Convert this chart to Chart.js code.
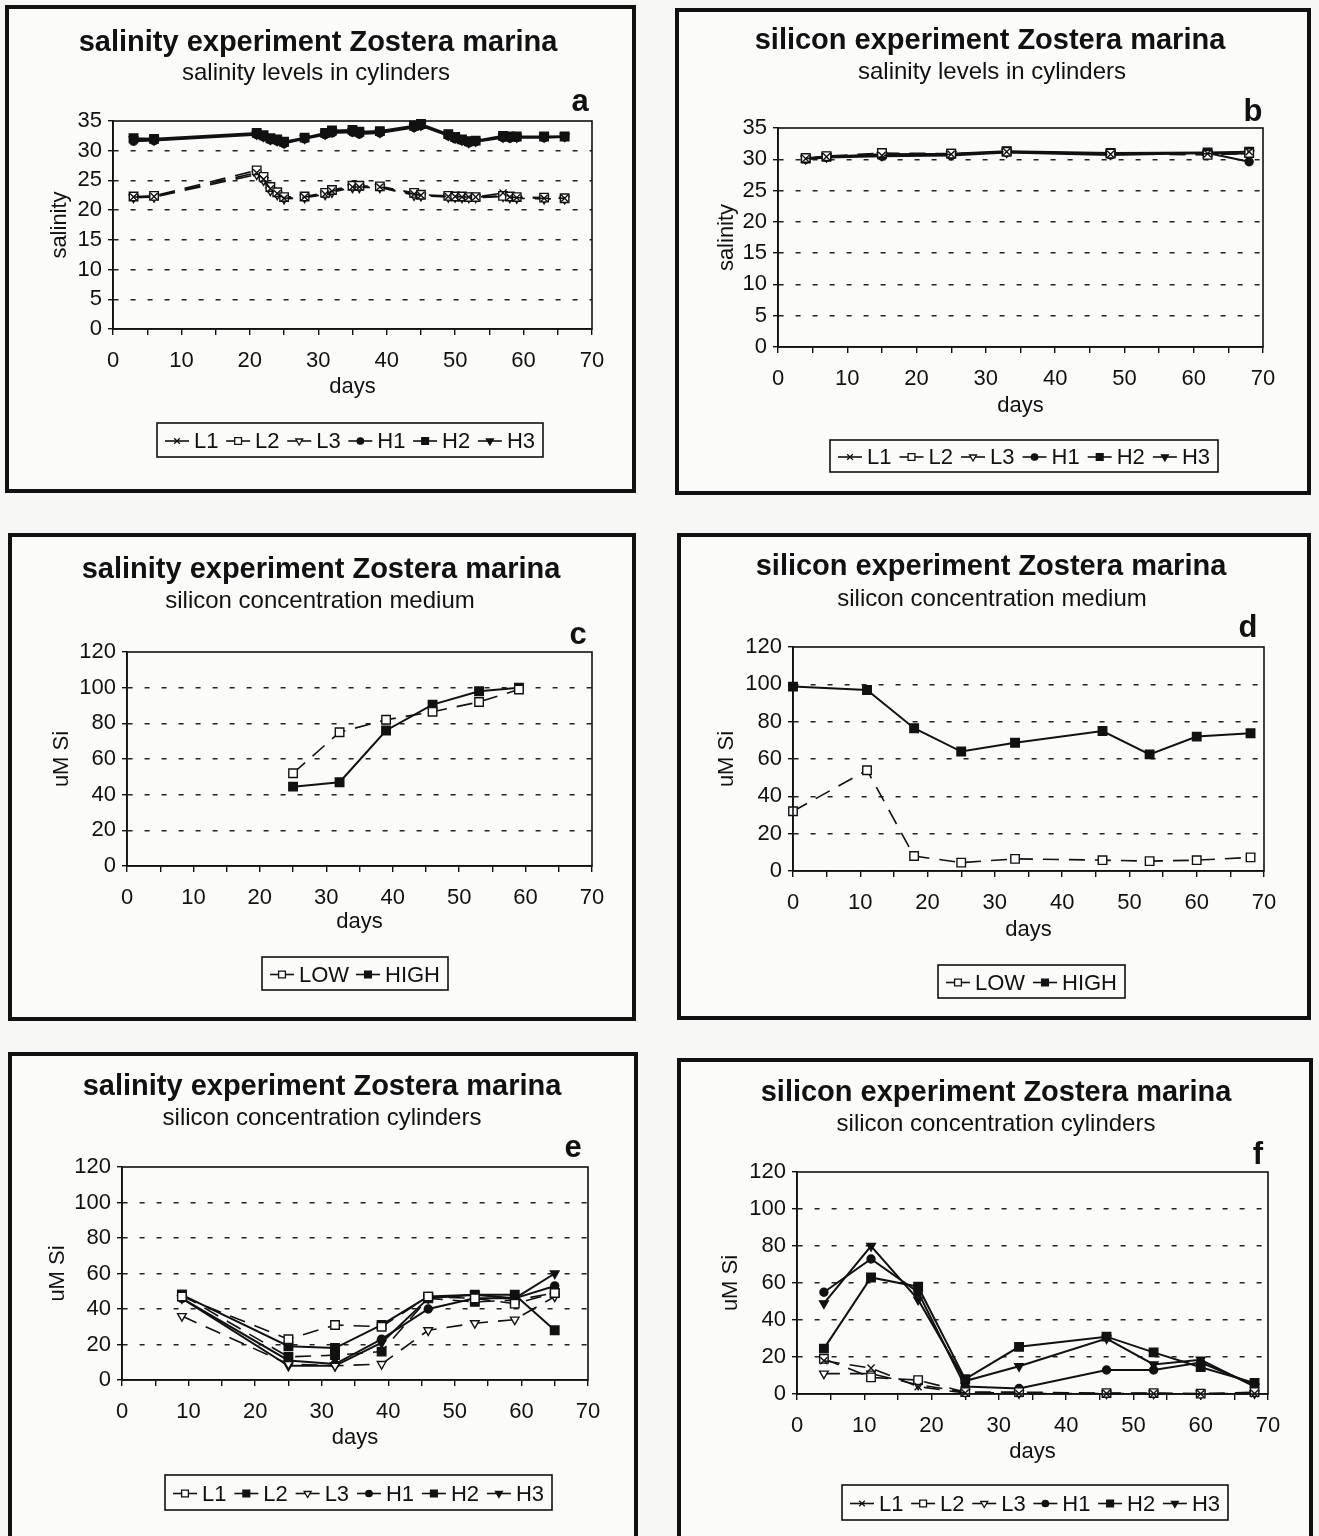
<!DOCTYPE html>
<html>
<head>
<meta charset="utf-8">
<script src="https://cdn.jsdelivr.net/npm/chart.js@4.4.1/dist/chart.umd.min.js"></script>
<style>
body { margin:0; width:1319px; height:1536px; background:#f7f7f5; position:relative; overflow:hidden; }
.box { position:absolute; border:4px solid #111; box-sizing:border-box; background:#fbfbfa; }
canvas { position:absolute; }
</style>
</head>
<body>
<script>
// ---------- data ----------

// a: salinity experiment, salinity in cylinders
var daysA = [3, 6, 21, 22, 23, 24, 25, 28, 31, 32, 35, 36, 39, 44, 45, 49, 50, 51, 52, 53, 57, 58, 59, 63, 66];
var salA_L1 = [22.2, 22.3, 26.3, 25.2, 23.6, 22.8, 22.0, 22.2, 22.7, 23.2, 23.9, 23.9, 23.9, 22.7, 22.5, 22.3, 22.3, 22.2, 22.2, 22.2, 22.9, 22.2, 22.1, 22.0, 22.0];
var salA_L2 = [22.3, 22.4, 26.7, 25.6, 23.9, 23.0, 22.2, 22.3, 22.9, 23.4, 24.1, 24.1, 24.0, 22.9, 22.6, 22.4, 22.3, 22.3, 22.2, 22.2, 22.4, 22.3, 22.2, 22.1, 22.0];
var salA_L3 = [22.1, 22.2, 26.0, 25.0, 23.3, 22.6, 21.9, 22.1, 22.6, 23.0, 23.8, 23.8, 23.8, 22.5, 22.4, 22.2, 22.2, 22.1, 22.1, 22.1, 22.3, 22.1, 22.0, 21.9, 21.9];
var salA_H1 = [31.6, 31.7, 32.7, 32.3, 31.8, 31.6, 31.2, 32.0, 32.7, 33.0, 33.1, 32.8, 33.0, 33.9, 34.2, 32.5, 32.0, 31.7, 31.3, 31.5, 32.2, 32.1, 32.2, 32.2, 32.3];
var salA_H2 = [32.1, 32.0, 33.0, 32.6, 32.1, 31.9, 31.5, 32.2, 33.0, 33.4, 33.5, 33.2, 33.3, 34.2, 34.5, 32.8, 32.3, 31.9, 31.6, 31.7, 32.5, 32.4, 32.4, 32.4, 32.4];
var salA_H3 = [31.9, 31.8, 32.8, 32.4, 31.9, 31.7, 31.3, 32.1, 32.8, 33.2, 33.3, 33.0, 33.1, 34.0, 34.3, 32.6, 32.2, 31.8, 31.4, 31.6, 32.3, 32.3, 32.3, 32.3, 32.4];

// b: silicon experiment, salinity in cylinders
var daysB = [4, 7, 15, 25, 33, 48, 62, 68];
var salB_L1 = [30.1, 30.4, 30.6, 30.8, 31.2, 30.8, 30.9, 31.2];
var salB_L2 = [30.2, 30.5, 31.0, 30.9, 31.2, 30.9, 30.7, 31.0];
var salB_L3 = [30.1, 30.4, 30.7, 30.8, 31.1, 30.8, 30.8, 30.9];
var salB_H1 = [30.0, 30.3, 30.5, 30.6, 31.1, 30.7, 31.0, 29.6];
var salB_H2 = [30.1, 30.4, 30.8, 30.9, 31.3, 31.0, 31.1, 31.2];
var salB_H3 = [30.1, 30.4, 30.6, 30.8, 31.2, 30.9, 31.0, 30.9];

// c: salinity experiment, silicon in medium
var daysC = [25, 32, 39, 46, 53, 59];
var siC_LOW = [52, 75, 82, 86.5, 92, 99];
var siC_HIGH = [44.5, 47, 76, 90.5, 98, 100];

// d: silicon experiment, silicon in medium
var daysD = [0, 11, 18, 25, 33, 46, 53, 60, 68];
var siD_LOW = [32, 54, 8, 4.5, 6.5, 5.8, 5.3, 5.8, 7.3];
var siD_HIGH = [98.8, 97, 76.5, 64, 68.7, 75, 62.5, 72, 73.8];

// e: salinity experiment, silicon in cylinders
var daysE = [9, 25, 32, 39, 46, 53, 59, 65];
var siE_L1 = [47, 23, 31, 30, 47, 46, 43, 49];
var siE_L2 = [48, 13, 14, 16, 46, 44, 45, 49];
var siE_L3 = [36, 9, 8, 9, 28, 32, 34, 47];
var siE_H1 = [46, 11, 9, 23, 40, 46, 46, 53];
var siE_H2 = [48, 19, 18, 31, 47, 48, 48, 28];
var siE_H3 = [46, 8, 8, 21, 46, 48, 46, 60];

// f: silicon experiment, silicon in cylinders
var daysF = [4, 11, 18, 25, 33, 46, 53, 60, 68];
var siF_L1 = [18, 14, 4, 0.5, 0.3, 0.2, 0.2, 0.1, 0.2];
var siF_L2 = [19, 9, 7.5, 1, 1, 0.5, 0.5, 0.2, 1];
var siF_L3 = [11, 11, 5, 1, 0.3, 0.2, 0.2, 0.1, 0.3];
var siF_H1 = [55, 73, 55, 4, 3, 13, 13, 17, 5];
var siF_H2 = [24.5, 63, 58, 8, 25.5, 31, 22.5, 14.5, 6];
var siF_H3 = [49, 80, 51, 7, 15, 30, 16, 18.5, 4];

var xTickLabels = [0, 10, 20, 30, 40, 50, 60, 70];

// ---------- styling ----------
var INK = '#111';
var FONT = '"Liberation Sans", Arial, sans-serif';

var STY = {
    cross:   {pointStyle: 'crossRot', pointRadius: 5, pointBackgroundColor: '#fff'},
    openSq:  {pointStyle: 'rect', pointRadius: 6, pointBackgroundColor: '#fff'},
    openTri: {pointStyle: 'triangle', pointRadius: 5, pointRotation: 180, pointBackgroundColor: '#fff'},
    dot:     {pointStyle: 'circle', pointRadius: 4, pointBackgroundColor: INK},
    sq:      {pointStyle: 'rect', pointRadius: 6, pointBackgroundColor: INK},
    tri:     {pointStyle: 'triangle', pointRadius: 5, pointRotation: 180, pointBackgroundColor: INK}
};

function series (label, days, vals, sty, dashed) {
    var ds = {
        label: label,
        data: days.map(function (d, i) { return {x: d, y: vals[i]}; }),
        borderColor: INK,
        borderWidth: dashed ? 1.6 : 2,
        borderDash: dashed ? [16, 10] : [],
        pointBorderColor: INK,
        pointBorderWidth: 1.4,
        tension: 0,
        fill: false,
        clip: false
    };
    for (var k in sty) ds[k] = sty[k];
    return ds;
}

var panels = [
    {box: [5, 5, 636, 493], plot: [113, 121, 592, 329], ymax: 35, ystep: 5,
     title: 'salinity experiment Zostera marina', tXY: [318, 43],
     sub: 'salinity levels in cylinders', sXY: [316, 73],
     letter: 'a', lXY: [580, 102], daysY: 387, ytitle: 'salinity', ytX: 60,
     legend: [157, 423, 543, 457],
     datasets: [
        series('L1', daysA, salA_L1, STY.cross, true),
        series('L2', daysA, salA_L2, STY.openSq, true),
        series('L3', daysA, salA_L3, STY.openTri, true),
        series('H1', daysA, salA_H1, STY.dot, false),
        series('H2', daysA, salA_H2, STY.sq, false),
        series('H3', daysA, salA_H3, STY.tri, false)
     ]},
    {box: [675, 8, 1311, 495], plot: [778, 128, 1263, 347], ymax: 35, ystep: 5,
     title: 'silicon experiment Zostera marina', tXY: [990, 41],
     sub: 'salinity levels in cylinders', sXY: [992, 72],
     letter: 'b', lXY: [1253, 112], daysY: 406, ytitle: 'salinity', ytX: 727,
     legend: [830, 440, 1218, 472],
     datasets: [
        series('L1', daysB, salB_L1, STY.cross, true),
        series('L2', daysB, salB_L2, STY.openSq, true),
        series('L3', daysB, salB_L3, STY.openTri, true),
        series('H1', daysB, salB_H1, STY.dot, false),
        series('H2', daysB, salB_H2, STY.sq, false),
        series('H3', daysB, salB_H3, STY.tri, false)
     ]},
    {box: [8, 533, 636, 1021], plot: [127, 652, 592, 866], ymax: 120, ystep: 20,
     title: 'salinity experiment Zostera marina', tXY: [321, 570],
     sub: 'silicon concentration medium', sXY: [320, 601],
     letter: 'c', lXY: [578, 635], daysY: 922, ytitle: 'uM Si', ytX: 62,
     legend: [262, 957, 448, 990],
     datasets: [
        series('LOW', daysC, siC_LOW, STY.openSq, true),
        series('HIGH', daysC, siC_HIGH, STY.sq, false)
     ]},
    {box: [677, 533, 1311, 1020], plot: [793, 647, 1264, 871], ymax: 120, ystep: 20,
     title: 'silicon experiment Zostera marina', tXY: [991, 567],
     sub: 'silicon concentration medium', sXY: [992, 599],
     letter: 'd', lXY: [1248, 628], daysY: 930, ytitle: 'uM Si', ytX: 727,
     legend: [938, 965, 1125, 998],
     datasets: [
        series('LOW', daysD, siD_LOW, STY.openSq, true),
        series('HIGH', daysD, siD_HIGH, STY.sq, false)
     ]},
    {box: [8, 1052, 638, 1540], plot: [122, 1167, 588, 1380], ymax: 120, ystep: 20,
     title: 'salinity experiment Zostera marina', tXY: [322, 1087],
     sub: 'silicon concentration cylinders', sXY: [322, 1118],
     letter: 'e', lXY: [573, 1148], daysY: 1438, ytitle: 'uM Si', ytX: 58,
     legend: [165, 1475, 552, 1510],
     datasets: [
        series('L1', daysE, siE_L1, STY.openSq, true),
        series('L2', daysE, siE_L2, STY.sq, true),
        series('L3', daysE, siE_L3, STY.openTri, true),
        series('H1', daysE, siE_H1, STY.dot, false),
        series('H2', daysE, siE_H2, STY.sq, false),
        series('H3', daysE, siE_H3, STY.tri, false)
     ]},
    {box: [677, 1058, 1313, 1540], plot: [797, 1172, 1268, 1394], ymax: 120, ystep: 20,
     title: 'silicon experiment Zostera marina', tXY: [996, 1093],
     sub: 'silicon concentration cylinders', sXY: [996, 1124],
     letter: 'f', lXY: [1258, 1155], daysY: 1452, ytitle: 'uM Si', ytX: 731,
     legend: [842, 1485, 1228, 1520],
     datasets: [
        series('L1', daysF, siF_L1, STY.cross, true),
        series('L2', daysF, siF_L2, STY.openSq, true),
        series('L3', daysF, siF_L3, STY.openTri, true),
        series('H1', daysF, siF_H1, STY.dot, false),
        series('H2', daysF, siF_H2, STY.sq, false),
        series('H3', daysF, siF_H3, STY.tri, false)
     ]}
];

// titles, panel letter, axis titles, plot frame and the boxed legend
var decoPlugin = {
    id: 'deco',
    afterDraw: function (chart, args, opts) {
        var p = opts.panel, ctx = chart.ctx, a = chart.chartArea;
        var ox = p.cx, oy = p.cy;
        ctx.save();
        ctx.strokeStyle = INK;
        ctx.lineWidth = 1.6;
        ctx.setLineDash([]);
        ctx.strokeRect(a.left, a.top, a.right - a.left, a.bottom - a.top);

        ctx.fillStyle = INK;
        ctx.textAlign = 'center';
        ctx.textBaseline = 'middle';
        ctx.font = 'bold 29px ' + FONT;
        ctx.fillText(p.title, p.tXY[0] - ox, p.tXY[1] - oy);
        ctx.font = '24px ' + FONT;
        ctx.fillText(p.sub, p.sXY[0] - ox, p.sXY[1] - oy);
        ctx.font = 'bold 31px ' + FONT;
        ctx.fillText(p.letter, p.lXY[0] - ox, p.lXY[1] - oy);
        ctx.font = '22px ' + FONT;
        ctx.fillText('days', (a.left + a.right) / 2, p.daysY - oy);
        ctx.save();
        ctx.translate(p.ytX - ox, (a.top + a.bottom) / 2);
        ctx.rotate(-Math.PI / 2);
        ctx.fillText(p.ytitle, 0, 0);
        ctx.restore();

        // legend
        var L = p.legend;
        var lx = L[0] - ox, ly = L[1] - oy, lw = L[2] - L[0], lh = L[3] - L[1];
        ctx.lineWidth = 1.6;
        ctx.strokeRect(lx, ly, lw, lh);
        ctx.font = '22px ' + FONT;
        ctx.textAlign = 'left';
        var lineLen = 24, gap = 5;
        var items = chart.data.datasets.map(function (ds) {
            return {ds: ds, w: lineLen + gap + ctx.measureText(ds.label).width};
        });
        var total = items.reduce(function (s, it) { return s + it.w; }, 0);
        var pad = 8;
        var spacing = items.length > 1 ? (lw - 2 * pad - total) / (items.length - 1) : 0;
        var x = lx + pad, cy = ly + lh / 2 + 1;
        items.forEach(function (it) {
            var ds = it.ds;
            ctx.strokeStyle = INK;
            ctx.lineWidth = 1.6;
            ctx.beginPath();
            ctx.moveTo(x, cy);
            ctx.lineTo(x + lineLen, cy);
            ctx.stroke();
            ctx.fillStyle = ds.pointBackgroundColor;
            ctx.lineWidth = 1.3;
            Chart.helpers.drawPoint(ctx, {
                pointStyle: ds.pointStyle,
                radius: ds.pointRadius * 0.8,
                rotation: ds.pointRotation || 0,
                borderWidth: 1.3
            }, x + lineLen / 2, cy);
            ctx.fillStyle = INK;
            ctx.fillText(ds.label, x + lineLen + gap, cy + 1);
            x += it.w + spacing;
        });
        ctx.restore();
    }
};

panels.forEach(function (p) {
    var bw = 4;
    var div = document.createElement('div');
    div.className = 'box';
    div.style.left = p.box[0] + 'px';
    div.style.top = p.box[1] + 'px';
    div.style.width = (p.box[2] - p.box[0]) + 'px';
    div.style.height = (p.box[3] - p.box[1]) + 'px';
    document.body.appendChild(div);

    p.cx = p.box[0] + bw;
    p.cy = p.box[1] + bw;
    var cw = p.box[2] - p.box[0] - 2 * bw;
    var ch = p.box[3] - p.box[1] - 2 * bw;
    var canvas = document.createElement('canvas');
    canvas.width = cw;
    canvas.height = ch;
    canvas.style.left = p.cx + 'px';
    canvas.style.top = p.cy + 'px';
    canvas.style.width = cw + 'px';
    canvas.style.height = ch + 'px';
    document.body.appendChild(canvas);

    var left = p.plot[0] - p.cx, top = p.plot[1] - p.cy;
    var right = cw - (p.plot[2] - p.cx), bottomPlot = p.plot[3] - p.cy;
    var xh = 50;
    var ymax = p.ymax;

    new Chart(canvas.getContext('2d'), {
        type: 'line',
        data: {datasets: p.datasets},
        options: {
            responsive: false,
            animation: false,
            layout: {padding: {left: 0, top: top, right: right, bottom: ch - bottomPlot - xh}},
            plugins: {legend: {display: false}, tooltip: {enabled: false}, deco: {panel: p}},
            scales: {
                x: {
                    type: 'linear', min: 0, max: 70,
                    afterFit: function (s) { s.height = xh; },
                    afterBuildTicks: function (s) {
                        s.ticks = [];
                        for (var v = 0; v <= 70; v += 5) s.ticks.push({value: v});
                    },
                    ticks: {
                        color: INK, padding: 13, maxRotation: 0, autoSkip: false,
                        font: {family: FONT, size: 22},
                        callback: function (v) { return xTickLabels.indexOf(v) >= 0 ? String(v) : ''; }
                    },
                    grid: {drawOnChartArea: false, tickLength: 6, color: INK, lineWidth: 1.4},
                    border: {color: INK, width: 1.6}
                },
                y: {
                    min: 0, max: ymax,
                    afterFit: function (s) { s.width = left; },
                    ticks: {stepSize: p.ystep, color: INK, padding: 6, font: {family: FONT, size: 22}},
                    grid: {
                        color: function (c) {
                            return (c.tick && (c.tick.value === 0 || c.tick.value === ymax)) ? 'rgba(0,0,0,0)' : '#222';
                        },
                        tickColor: INK, tickLength: 5, lineWidth: 1.4, tickBorderDash: []
                    },
                    border: {color: INK, width: 1.6, dash: [5, 12]}
                }
            }
        },
        plugins: [decoPlugin]
    });
});
</script>
</body>
</html>
